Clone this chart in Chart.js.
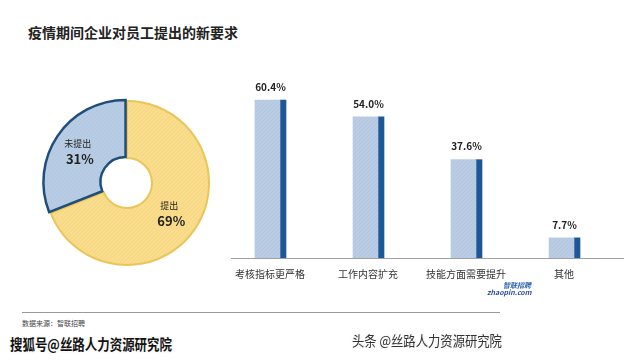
<!DOCTYPE html>
<html>
<head>
<meta charset="utf-8">
<script src="https://cdn.jsdelivr.net/npm/chart.js@4"></script>
<style>
  body { margin: 0; width: 640px; height: 360px; background: #fff; position: relative; overflow: hidden;
         font-family: "Noto Sans CJK SC", "Noto Sans", sans-serif; }
  .abs { position: absolute; }
  #title { left: 28px; top: 22px; font-size: 14px; font-weight: bold; color: #222; }
  #pieBox { left: 27px; top: 83px; width: 200px; height: 200px; }
  #barBox { left: 200px; top: 60px; width: 440px; height: 230px; }
  #rule { left: 22px; top: 312px; width: 478px; height: 1px; background: #9a9a9a; }
  #source { left: 22px; top: 318px; font-size: 7px; color: #444; }
  #wm1 { left: 10px; top: 333px; font-size: 15px; font-weight: bold; color: #111; white-space: nowrap;
         transform: scaleX(0.83); transform-origin: left top;
         text-shadow: 1px 1px 0 #fff, -1px -1px 0 #fff, 1px -1px 0 #fff, -1px 1px 0 #fff, 0 0 2px #888; }
  #wm2 { left: 352px; top: 330px; font-size: 14px; color: #333; white-space: nowrap;
         transform: scaleX(0.88); transform-origin: left top;
         text-shadow: 1px 1px 0 #fff, -1px -1px 0 #fff, 0 0 2px #aaa; }
  #logo1 { left: 503px; top: 280px; font-size: 7px; font-weight: bold; color: #2b5fb0; font-style: italic; }
  #logo2 { left: 487px; top: 287px; font-size: 7px; font-weight: bold; color: #2b4f9a; font-style: italic; }
</style>
</head>
<body>
<div id="title" class="abs">疫情期间企业对员工提出的新要求</div>
<div id="pieBox" class="abs"><canvas id="pie"></canvas></div>
<div id="barBox" class="abs"><canvas id="bar"></canvas></div>
<div id="rule" class="abs"></div>
<div id="source" class="abs">数据来源：智联招聘</div>
<div id="logo1" class="abs">智联招聘</div>
<div id="logo2" class="abs">zhaopin.com</div>
<div id="wm1" class="abs">搜狐号@丝路人力资源研究院</div>
<div id="wm2" class="abs">头条 @丝路人力资源研究院</div>
<script>
const pieLabels = ['提出', '未提出'];
const pieValues = [69, 31];

const barCategories = ['考核指标更严格', '工作内容扩充', '技能方面需要提升', '其他'];
const barValues = [60.4, 54.0, 37.6, 7.7];

const FONT = '"Noto Sans CJK SC", "Noto Sans", sans-serif';

// light hatched fill like the original
function hatch(bg, line) {
    const c = document.createElement('canvas');
    c.width = 4; c.height = 4;
    const g = c.getContext('2d');
    g.fillStyle = bg;
    g.fillRect(0, 0, 4, 4);
    g.strokeStyle = line;
    g.lineWidth = 0.6;
    g.beginPath();
    g.moveTo(0, 4); g.lineTo(4, 0);
    g.stroke();
    return g.createPattern(c, 'repeat');
}

const pieText = {
    id: 'pieText',
    afterDatasetsDraw(chart) {
        const ctx = chart.ctx;
        const meta = chart.getDatasetMeta(0);
        meta.data.forEach((arc, i) => {
            const p = arc.getCenterPoint();
            ctx.save();
            ctx.textAlign = 'center';
            ctx.textBaseline = 'middle';
            ctx.fillStyle = '#222';
            ctx.font = '9px ' + FONT;
            ctx.fillText(pieLabels[i], p.x - 2, p.y - 7);
            ctx.font = 'bold 13px ' + FONT;
            ctx.fillText(pieValues[i] + '%', p.x, p.y + 8);
            ctx.restore();
        });
    }
};

new Chart(document.getElementById('pie'), {
    type: 'doughnut',
    data: {
        labels: pieLabels,
        datasets: [{
            data: pieValues,
            backgroundColor: [hatch('#f9dc8c', '#f3d27a'), hatch('#b9cde4', '#a8bfdc')],
            borderColor: ['#e8c65a', '#1f4e7c'],
            borderWidth: [2, 2.5],
            offset: [0, 7],
            borderJoinStyle: 'miter'
        }]
    },
    options: {
        responsive: true,
        maintainAspectRatio: false,
        animation: false,
        radius: 82,
        cutout: 29,
        plugins: { legend: { display: false }, tooltip: { enabled: false } }
    },
    plugins: [pieText]
});

const barText = {
    id: 'barText',
    afterDatasetsDraw(chart) {
        const ctx = chart.ctx;
        const light = chart.getDatasetMeta(0).data;
        const dark = chart.getDatasetMeta(1).data;
        ctx.save();
        ctx.textAlign = 'center';
        ctx.textBaseline = 'middle';
        ctx.fillStyle = '#222';
        ctx.font = 'bold 10px ' + FONT;
        light.forEach((bar, i) => {
            const left = bar.x - bar.width / 2;
            const right = dark[i].x + dark[i].width / 2;
            ctx.fillText(barValues[i].toFixed(1) + '%', (left + right) / 2, bar.y - 13);
        });
        ctx.restore();
    }
};

new Chart(document.getElementById('bar'), {
    type: 'bar',
    data: {
        labels: barCategories,
        datasets: [
            { data: barValues, backgroundColor: hatch('#b9cce4', '#adc2de'), barThickness: 25 },
            { data: barValues, backgroundColor: '#1d5797', barThickness: 6 }
        ]
    },
    options: {
        responsive: true,
        maintainAspectRatio: false,
        animation: false,
        layout: { padding: { left: 31, right: 17, top: 28, bottom: 8 } },
        scales: {
            x: {
                grid: { display: false },
                border: { color: '#a0a0a0', width: 1 },
                ticks: { color: '#333', font: { size: 10, family: FONT }, labelOffset: -10, padding: 2 }
            },
            y: { display: false, min: 0, max: 65 }
        },
        plugins: { legend: { display: false }, tooltip: { enabled: false } }
    },
    plugins: [barText]
});
</script>
</body>
</html>
